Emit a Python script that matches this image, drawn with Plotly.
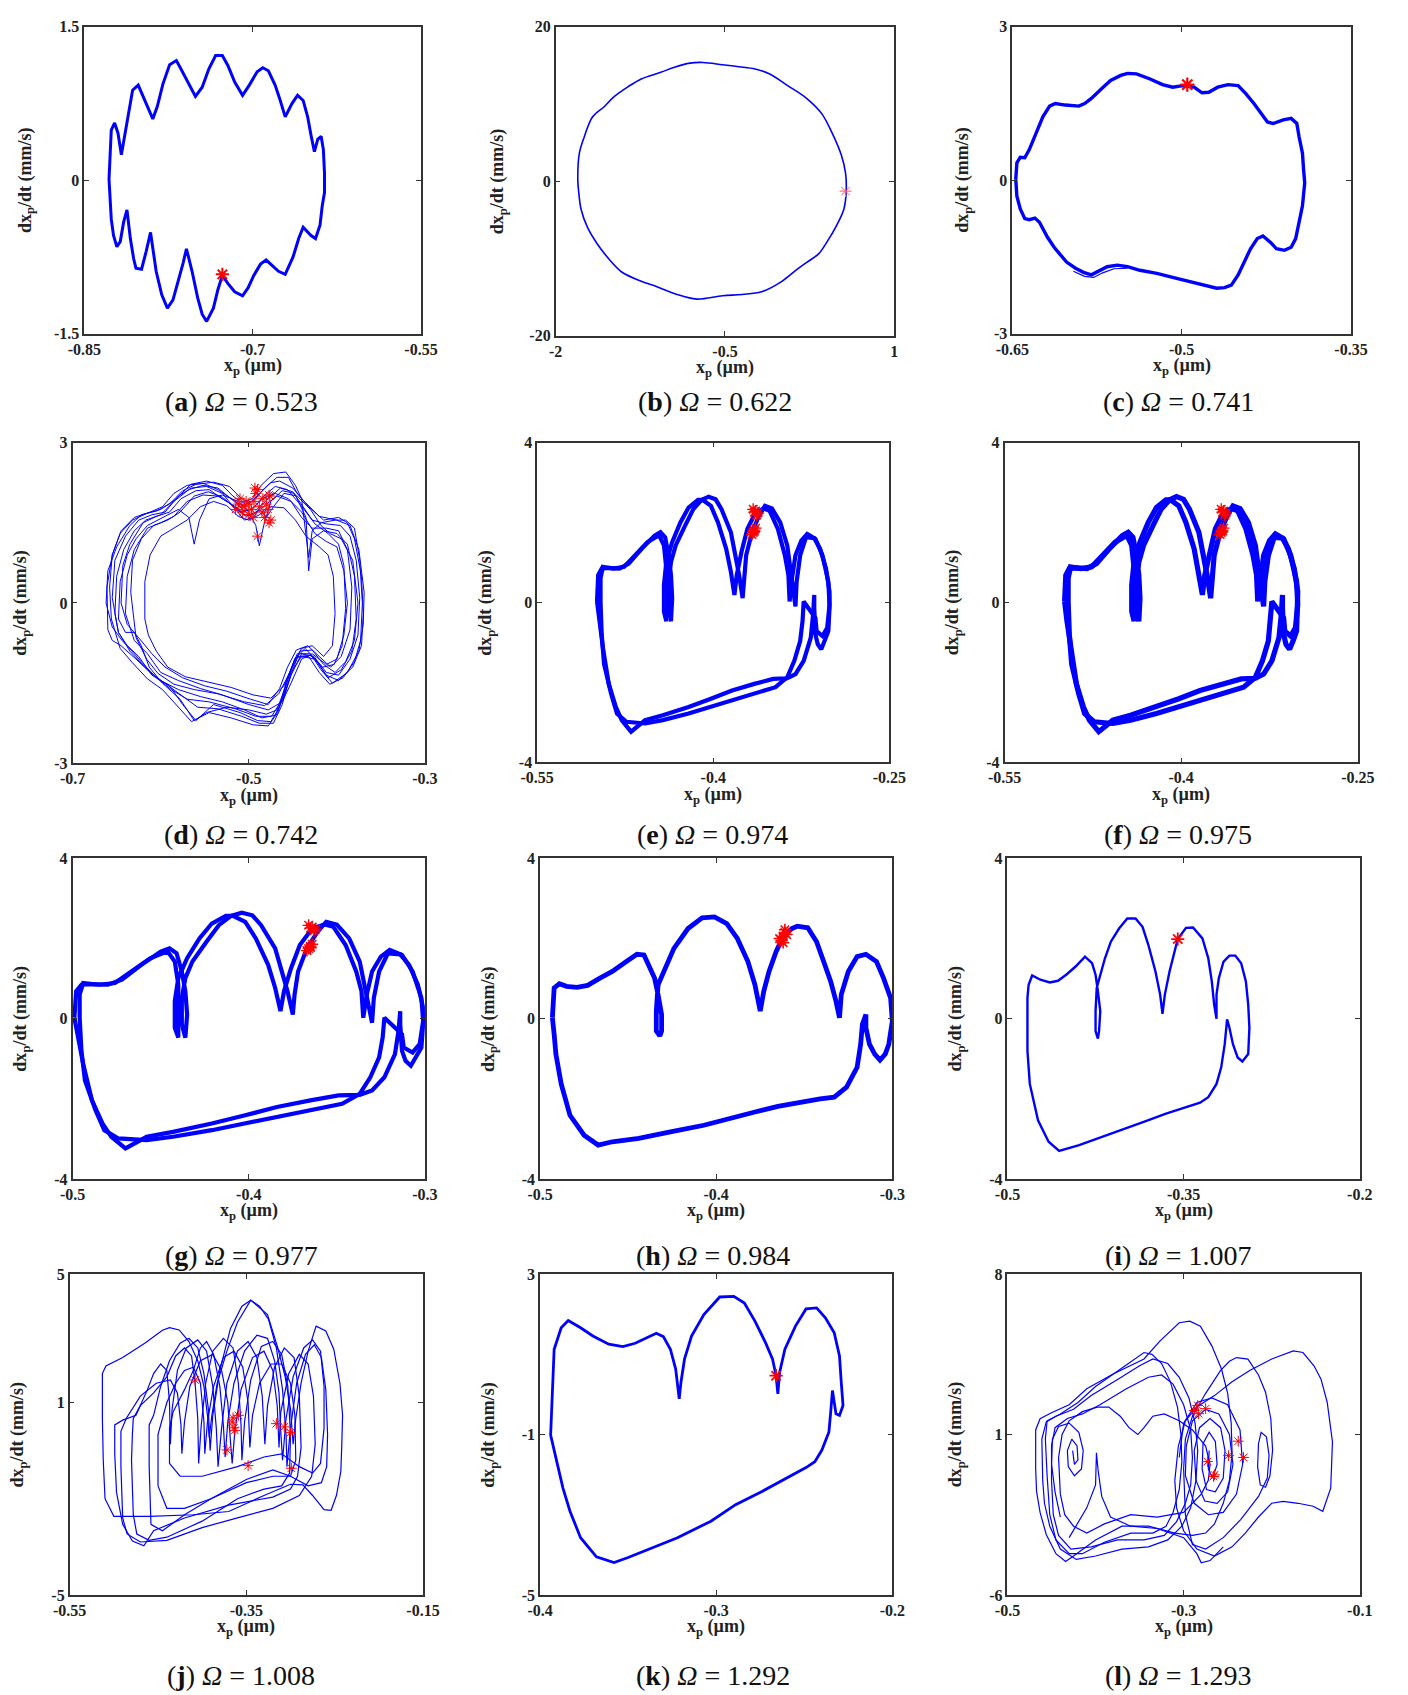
import plotly.graph_objects as go

W, H = 1408, 1695

# ---------------- data: phase trajectories (x_p in um, dx_p/dt in mm/s) ----------------
# (a) Omega = 0.523
orbit_a = [(-0.828, 0.01), (-0.827, 0.27), (-0.826, 0.49), (-0.823, 0.56), (-0.820, 0.46),
           (-0.817, 0.25), (-0.813, 0.49), (-0.810, 0.68), (-0.807, 0.88), (-0.802, 0.93),
           (-0.799, 0.85), (-0.794, 0.72), (-0.789, 0.60), (-0.785, 0.72), (-0.780, 0.94),
           (-0.774, 1.13), (-0.768, 1.17), (-0.764, 1.09), (-0.758, 0.96), (-0.751, 0.82),
           (-0.745, 0.91), (-0.739, 1.09), (-0.733, 1.22), (-0.727, 1.22), (-0.722, 1.12),
           (-0.716, 0.96), (-0.709, 0.83), (-0.703, 0.93), (-0.696, 1.06), (-0.691, 1.10),
           (-0.686, 1.07), (-0.680, 0.93), (-0.676, 0.80), (-0.671, 0.62), (-0.665, 0.75),
           (-0.660, 0.83), (-0.655, 0.78), (-0.651, 0.62), (-0.648, 0.44), (-0.645, 0.28),
           (-0.642, 0.40), (-0.639, 0.43), (-0.637, 0.30), (-0.636, 0.07), (-0.636, -0.12),
           (-0.638, -0.25), (-0.640, -0.44), (-0.644, -0.57), (-0.648, -0.54), (-0.655, -0.46),
           (-0.659, -0.57), (-0.664, -0.75), (-0.671, -0.92), (-0.677, -0.89), (-0.683, -0.83),
           (-0.688, -0.78), (-0.693, -0.82), (-0.699, -0.93), (-0.704, -1.05), (-0.709, -1.13),
           (-0.716, -1.09), (-0.722, -1.01), (-0.727, -0.93), (-0.731, -1.07), (-0.735, -1.25),
           (-0.741, -1.38), (-0.745, -1.31), (-0.749, -1.15), (-0.754, -0.89), (-0.759, -0.67),
           (-0.762, -0.81), (-0.767, -1.02), (-0.771, -1.17), (-0.776, -1.25), (-0.781, -1.12),
           (-0.786, -0.89), (-0.789, -0.67), (-0.791, -0.51), (-0.795, -0.70), (-0.799, -0.87),
           (-0.804, -0.86), (-0.806, -0.77), (-0.809, -0.57), (-0.812, -0.29), (-0.815, -0.41),
           (-0.818, -0.60), (-0.821, -0.65), (-0.824, -0.54), (-0.826, -0.38), (-0.827, -0.19),
           (-0.828, 0.01)]
poincare_a = [(-0.727, -0.92)]

# (b) Omega = 0.622
orbit_b = [(-1.804, 0.21), (-1.790, 3.63), (-1.746, 5.77), (-1.674, 8.33), (-1.573, 9.62),
           (-1.487, 10.90), (-1.357, 12.26), (-1.242, 13.25), (-1.069, 14.10), (-0.954, 14.74),
           (-0.810, 15.30), (-0.694, 15.38), (-0.522, 15.09), (-0.377, 14.83), (-0.233, 14.53),
           (-0.104, 13.89), (0.055, 12.39), (0.228, 10.68), (0.357, 8.76), (0.458, 5.98),
           (0.530, 3.42), (0.568, 1.07), (0.574, -1.28), (0.553, -3.63), (0.487, -5.77),
           (0.401, -7.91), (0.329, -9.40), (0.228, -10.47), (0.127, -11.54), (-0.003, -13.03),
           (-0.176, -14.32), (-0.349, -14.66), (-0.522, -14.83), (-0.752, -15.26), (-0.925, -14.66),
           (-1.098, -13.68), (-1.242, -12.95), (-1.415, -11.75), (-1.530, -10.04), (-1.631, -8.12),
           (-1.718, -5.98), (-1.775, -3.63), (-1.795, -1.50), (-1.804, 0.21)]
poincare_b = [(0.568, -1.28)]

# (c) Omega = 0.741
orbit_c = [(-0.647, 0.02), (-0.646, 0.34), (-0.643, 0.45), (-0.639, 0.44), (-0.635, 0.60),
           (-0.629, 0.92), (-0.623, 1.24), (-0.617, 1.45), (-0.612, 1.50), (-0.603, 1.47),
           (-0.591, 1.45), (-0.586, 1.50), (-0.580, 1.60), (-0.571, 1.79), (-0.563, 1.95),
           (-0.554, 2.05), (-0.548, 2.09), (-0.540, 2.08), (-0.528, 1.98), (-0.517, 1.87),
           (-0.508, 1.82), (-0.499, 1.85), (-0.489, 1.82), (-0.482, 1.71), (-0.476, 1.72),
           (-0.468, 1.82), (-0.459, 1.87), (-0.450, 1.85), (-0.443, 1.69), (-0.436, 1.50),
           (-0.430, 1.31), (-0.424, 1.14), (-0.419, 1.11), (-0.410, 1.18), (-0.403, 1.21),
           (-0.398, 1.11), (-0.396, 0.85), (-0.393, 0.53), (-0.392, 0.21), (-0.391, -0.05),
           (-0.393, -0.50), (-0.396, -0.82), (-0.399, -1.14), (-0.403, -1.31), (-0.409, -1.37),
           (-0.416, -1.34), (-0.421, -1.22), (-0.428, -1.09), (-0.433, -1.14), (-0.439, -1.34),
           (-0.445, -1.60), (-0.450, -1.85), (-0.456, -2.05), (-0.462, -2.10), (-0.469, -2.11),
           (-0.479, -2.06), (-0.494, -1.98), (-0.508, -1.90), (-0.522, -1.82), (-0.537, -1.76),
           (-0.548, -1.69), (-0.557, -1.66), (-0.566, -1.69), (-0.574, -1.79), (-0.580, -1.85),
           (-0.587, -1.80), (-0.594, -1.72), (-0.602, -1.60), (-0.607, -1.47), (-0.613, -1.31),
           (-0.619, -1.11), (-0.626, -0.82), (-0.630, -0.74), (-0.635, -0.77), (-0.639, -0.75),
           (-0.643, -0.56), (-0.646, -0.31), (-0.647, 0.02)]
orbit_c_fan = [(-0.548, -1.72), (-0.560, -1.73), (-0.570, -1.81), (-0.578, -1.90),
               (-0.586, -1.88), (-0.596, -1.78)]
poincare_c = [(-0.495, 1.87)]

# (d) Omega = 0.742
orbit_d1 = [(-0.662, 0.0), (-0.660, 0.6), (-0.650, 1.05), (-0.635, 1.45), (-0.622, 1.65),
            (-0.605, 1.72), (-0.590, 1.85), (-0.575, 2.10), (-0.560, 2.22), (-0.540, 2.26),
            (-0.522, 2.18), (-0.510, 1.98), (-0.500, 1.85), (-0.488, 2.05), (-0.475, 2.25),
            (-0.465, 2.28), (-0.450, 2.15), (-0.437, 1.90), (-0.420, 1.62), (-0.400, 1.55),
            (-0.385, 1.45), (-0.375, 1.0), (-0.369, 0.2), (-0.370, -0.4), (-0.375, -0.9),
            (-0.388, -1.3), (-0.405, -1.50), (-0.418, -1.25), (-0.430, -0.95), (-0.445, -0.95),
            (-0.455, -1.4), (-0.465, -1.95), (-0.475, -2.22), (-0.490, -2.20), (-0.510, -2.05),
            (-0.540, -1.90), (-0.560, -2.20), (-0.575, -1.90), (-0.590, -1.55), (-0.610, -1.35),
            (-0.625, -1.0), (-0.643, -0.72), (-0.655, -0.45), (-0.662, 0.0)]
orbit_d2 = [(-0.640, -0.2), (-0.638, 0.5), (-0.630, 1.0), (-0.615, 1.40), (-0.600, 1.50),
            (-0.585, 1.62), (-0.570, 1.90), (-0.552, 2.02), (-0.535, 2.00), (-0.520, 1.85),
            (-0.510, 1.70), (-0.497, 1.75), (-0.485, 1.95), (-0.470, 2.05), (-0.455, 1.95),
            (-0.440, 1.70), (-0.425, 1.30), (-0.412, 1.15), (-0.400, 1.05), (-0.392, 0.6),
            (-0.388, 0.0), (-0.392, -0.6), (-0.400, -1.05), (-0.412, -1.15), (-0.428, -0.95),
            (-0.440, -1.05), (-0.452, -1.5), (-0.462, -1.85), (-0.478, -2.00), (-0.500, -1.90),
            (-0.530, -1.72), (-0.555, -1.60), (-0.580, -1.45), (-0.600, -1.30), (-0.615, -0.95),
            (-0.630, -0.70), (-0.640, -0.2)]
orbit_d3 = [(-0.655, 0.1), (-0.652, 0.8), (-0.640, 1.25), (-0.625, 1.55), (-0.610, 1.65),
            (-0.595, 1.70), (-0.580, 2.00), (-0.565, 2.15), (-0.548, 2.18), (-0.530, 2.05),
            (-0.515, 1.75), (-0.505, 1.55), (-0.495, 1.60), (-0.488, 1.75), (-0.480, 1.60),
            (-0.472, 1.80), (-0.460, 2.05), (-0.445, 2.00), (-0.430, 1.75), (-0.418, 1.45),
            (-0.408, 1.30), (-0.395, 1.20), (-0.382, 0.8), (-0.376, 0.0), (-0.380, -0.7),
            (-0.390, -1.10), (-0.402, -1.30), (-0.415, -1.15), (-0.428, -0.88), (-0.442, -0.90),
            (-0.450, -1.25), (-0.460, -1.75), (-0.470, -2.10), (-0.485, -2.15), (-0.505, -2.00),
            (-0.530, -1.85), (-0.555, -1.75), (-0.580, -1.62), (-0.600, -1.45), (-0.618, -1.20),
            (-0.635, -0.90), (-0.648, -0.55), (-0.655, 0.1)]
orbit_d4 = [(-0.648, -0.3), (-0.646, 0.4), (-0.638, 0.9), (-0.628, 1.2), (-0.615, 1.45),
            (-0.600, 1.58), (-0.580, 1.75), (-0.568, 1.60), (-0.562, 1.10), (-0.556, 1.55),
            (-0.545, 1.95), (-0.530, 2.02), (-0.512, 1.90), (-0.500, 1.70), (-0.492, 1.45),
            (-0.488, 1.07), (-0.483, 1.45), (-0.475, 1.90), (-0.462, 2.10), (-0.448, 2.05),
            (-0.435, 1.60), (-0.432, 0.60), (-0.428, 1.20), (-0.415, 1.35), (-0.400, 1.30),
            (-0.388, 1.10), (-0.380, 0.5), (-0.378, -0.3), (-0.383, -0.9), (-0.395, -1.25),
            (-0.410, -1.40), (-0.422, -1.10), (-0.436, -0.85), (-0.448, -1.05), (-0.458, -1.55),
            (-0.468, -2.00), (-0.480, -2.08), (-0.500, -2.00), (-0.525, -1.95), (-0.548, -2.05),
            (-0.562, -2.20), (-0.578, -1.80), (-0.598, -1.50), (-0.613, -1.20), (-0.622, -0.80),
            (-0.630, -0.55), (-0.640, -0.55), (-0.648, -0.3)]
orbit_d5 = [(-0.660, -0.5), (-0.661, 0.3), (-0.655, 0.9), (-0.645, 1.35), (-0.630, 1.60),
            (-0.612, 1.70), (-0.598, 1.80), (-0.585, 2.05), (-0.570, 2.20), (-0.552, 2.24),
            (-0.535, 2.12), (-0.520, 1.95), (-0.508, 1.82), (-0.495, 1.90), (-0.482, 2.15),
            (-0.468, 2.35), (-0.455, 2.35), (-0.445, 2.05), (-0.432, 1.80), (-0.415, 1.55),
            (-0.398, 1.60), (-0.388, 1.50), (-0.380, 1.2), (-0.372, 0.5), (-0.370, -0.2),
            (-0.372, -0.8), (-0.382, -1.20), (-0.398, -1.45), (-0.412, -1.35), (-0.425, -1.05),
            (-0.440, -1.00), (-0.452, -1.30), (-0.462, -1.90), (-0.472, -2.25), (-0.488, -2.25),
            (-0.508, -2.12), (-0.535, -1.98), (-0.558, -1.95), (-0.575, -1.75), (-0.595, -1.50),
            (-0.612, -1.30), (-0.628, -1.05), (-0.645, -0.80), (-0.655, -0.70), (-0.660, -0.5)]
orbit_d6 = [(-0.645, 0.0), (-0.643, 0.7), (-0.635, 1.10), (-0.620, 1.50), (-0.605, 1.62),
            (-0.590, 1.70), (-0.577, 1.95), (-0.560, 2.10), (-0.545, 2.12), (-0.530, 1.95),
            (-0.515, 1.80), (-0.505, 1.65), (-0.495, 1.65), (-0.480, 1.85), (-0.468, 2.00),
            (-0.452, 1.90), (-0.440, 1.60), (-0.428, 1.40), (-0.412, 1.40), (-0.398, 1.35),
            (-0.388, 1.0), (-0.383, 0.3), (-0.385, -0.5), (-0.395, -1.00), (-0.407, -1.20),
            (-0.420, -1.00), (-0.433, -0.80), (-0.446, -0.88), (-0.456, -1.20), (-0.465, -1.60),
            (-0.478, -1.90), (-0.498, -1.80), (-0.525, -1.65), (-0.550, -1.55), (-0.575, -1.40),
            (-0.595, -1.20), (-0.610, -0.95), (-0.625, -0.65), (-0.638, -0.40), (-0.645, 0.0)]
orbit_d7 = [(-0.618, -0.3), (-0.618, 0.4), (-0.612, 0.9), (-0.600, 1.25), (-0.585, 1.40),
            (-0.570, 1.55), (-0.555, 1.80), (-0.540, 1.90), (-0.525, 1.82), (-0.512, 1.62),
            (-0.500, 1.55), (-0.488, 1.65), (-0.475, 1.80), (-0.460, 1.78), (-0.447, 1.55),
            (-0.435, 1.25), (-0.420, 1.05), (-0.410, 0.90), (-0.404, 0.5), (-0.402, -0.2),
            (-0.405, -0.8), (-0.415, -1.00), (-0.428, -0.80), (-0.440, -0.85), (-0.450, -1.15),
            (-0.460, -1.55), (-0.475, -1.78), (-0.495, -1.72), (-0.520, -1.58), (-0.548, -1.48),
            (-0.572, -1.38), (-0.592, -1.20), (-0.605, -0.90), (-0.614, -0.60), (-0.618, -0.3)]
orbit_d8 = [(-0.652, -0.2), (-0.650, 0.5), (-0.642, 1.0), (-0.630, 1.35), (-0.617, 1.55),
            (-0.600, 1.65), (-0.585, 1.90), (-0.568, 2.12), (-0.552, 2.20), (-0.535, 2.15),
            (-0.518, 1.92), (-0.505, 1.72), (-0.494, 1.78), (-0.483, 2.00), (-0.470, 2.18),
            (-0.456, 2.12), (-0.442, 1.85), (-0.428, 1.55), (-0.412, 1.48), (-0.396, 1.45),
            (-0.385, 1.25), (-0.378, 0.8), (-0.374, 0.1), (-0.376, -0.6), (-0.385, -1.05),
            (-0.398, -1.35), (-0.412, -1.30), (-0.426, -1.00), (-0.440, -0.95), (-0.452, -1.35),
            (-0.462, -1.80), (-0.474, -2.12), (-0.492, -2.12), (-0.515, -1.98), (-0.545, -1.85),
            (-0.570, -1.80), (-0.588, -1.62), (-0.605, -1.40), (-0.622, -1.10), (-0.638, -0.80),
            (-0.648, -0.55), (-0.652, -0.2)]
orbit_d9 = [(-0.634, 0.2), (-0.632, 0.8), (-0.622, 1.20), (-0.608, 1.45), (-0.592, 1.55),
            (-0.578, 1.70), (-0.562, 2.00), (-0.546, 2.08), (-0.530, 1.98), (-0.516, 1.78),
            (-0.503, 1.62), (-0.492, 1.70), (-0.478, 1.95), (-0.464, 2.15), (-0.450, 2.08),
            (-0.438, 1.80), (-0.425, 1.48), (-0.410, 1.30), (-0.398, 1.10), (-0.392, 0.7),
            (-0.390, -0.1), (-0.394, -0.8), (-0.403, -1.15), (-0.416, -1.20), (-0.430, -0.98),
            (-0.444, -1.00), (-0.455, -1.35), (-0.466, -1.70), (-0.482, -1.92), (-0.505, -1.85),
            (-0.535, -1.70), (-0.562, -1.62), (-0.585, -1.52), (-0.603, -1.32), (-0.616, -1.05),
            (-0.628, -0.65), (-0.634, 0.2)]
orbit_d10 = [(-0.658, 0.3), (-0.655, 0.9), (-0.646, 1.30), (-0.632, 1.55), (-0.615, 1.68),
             (-0.600, 1.75), (-0.582, 1.95), (-0.566, 2.22), (-0.548, 2.28), (-0.530, 2.20),
             (-0.518, 2.00), (-0.508, 1.88), (-0.496, 1.95), (-0.486, 2.20), (-0.472, 2.42),
             (-0.458, 2.45), (-0.447, 2.20), (-0.440, 1.95), (-0.436, 1.40), (-0.432, 0.85),
             (-0.428, 1.35), (-0.418, 1.50), (-0.402, 1.55), (-0.390, 1.55), (-0.380, 1.40),
             (-0.374, 0.8), (-0.371, 0.0), (-0.373, -0.7), (-0.380, -1.10), (-0.393, -1.40),
             (-0.408, -1.52), (-0.420, -1.30), (-0.432, -1.00), (-0.447, -1.02), (-0.457, -1.45),
             (-0.467, -2.05), (-0.478, -2.30), (-0.495, -2.28), (-0.520, -2.15), (-0.545, -2.05),
             (-0.565, -2.22), (-0.580, -1.95), (-0.598, -1.62), (-0.615, -1.42), (-0.632, -1.12),
             (-0.646, -0.85), (-0.656, -0.3), (-0.658, 0.3)]
poincare_d = [(-0.510, 1.95), (-0.505, 1.80), (-0.500, 1.85), (-0.497, 1.75), (-0.494, 1.90),
              (-0.492, 2.05), (-0.490, 2.12), (-0.488, 1.80), (-0.485, 1.70), (-0.484, 1.95),
              (-0.482, 1.60), (-0.480, 1.85), (-0.478, 1.75), (-0.476, 2.00), (-0.475, 1.55),
              (-0.477, 1.50), (-0.500, 1.65), (-0.503, 1.90), (-0.515, 1.75), (-0.512, 1.85),
              (-0.507, 1.70), (-0.495, 1.60), (-0.490, 1.25), (-0.493, 2.15), (-0.477, 2.02)]

# (e)-(g) Omega = 0.974 / 0.975 / 0.977: period-two orbit
orbit_p2_outer = [(-0.499, 0.025), (-0.498, 0.684), (-0.495, 0.849), (-0.489, 0.866), (-0.480, 0.849),
                  (-0.472, 0.973), (-0.461, 1.344), (-0.450, 1.674), (-0.445, 1.757), (-0.441, 1.633),
                  (-0.438, 1.179), (-0.436, 0.684), (-0.435, 0.107), (-0.436, -0.470), (-0.438, -0.140),
                  (-0.438, 0.520), (-0.436, 1.014), (-0.432, 1.427), (-0.424, 1.922), (-0.417, 2.334),
                  (-0.410, 2.565), (-0.404, 2.647), (-0.398, 2.581), (-0.393, 2.334), (-0.385, 1.757),
                  (-0.381, 1.179), (-0.378, 0.684), (-0.375, 0.107), (-0.374, 0.602), (-0.372, 1.179),
                  (-0.367, 1.757), (-0.361, 2.169), (-0.356, 2.416), (-0.350, 2.350), (-0.343, 2.004),
                  (-0.337, 1.427), (-0.334, 0.767), (-0.331, 0.107), (-0.330, -0.099), (-0.329, 0.520),
                  (-0.326, 1.179), (-0.321, 1.633), (-0.314, 1.608), (-0.309, 1.344), (-0.304, 0.849),
                  (-0.301, 0.272), (-0.301, -0.140), (-0.302, -0.717), (-0.305, -0.965), (-0.308, -1.171),
                  (-0.311, -1.047), (-0.313, -0.800), (-0.314, -0.140), (-0.314, 0.190), (-0.315, -0.305),
                  (-0.317, -0.882), (-0.323, -1.460), (-0.330, -1.790), (-0.337, -1.897), (-0.349, -1.913),
                  (-0.365, -2.037), (-0.384, -2.202), (-0.402, -2.408), (-0.421, -2.614), (-0.443, -2.821),
                  (-0.458, -2.944), (-0.470, -3.233), (-0.478, -2.944), (-0.483, -2.614), (-0.489, -2.037),
                  (-0.494, -1.130), (-0.497, -0.470), (-0.499, 0.025)]
orbit_p2_inner = [(-0.496, 0.025), (-0.496, 0.602), (-0.494, 0.891), (-0.485, 0.849), (-0.476, 0.891),
                  (-0.467, 1.179), (-0.456, 1.509), (-0.449, 1.633), (-0.446, 1.674), (-0.442, 1.427),
                  (-0.440, 0.849), (-0.440, 0.190), (-0.440, -0.470), (-0.442, -0.223), (-0.442, 0.437),
                  (-0.440, 1.014), (-0.435, 1.509), (-0.428, 2.004), (-0.421, 2.375), (-0.413, 2.565),
                  (-0.409, 2.565), (-0.402, 2.416), (-0.396, 2.004), (-0.389, 1.344), (-0.385, 0.767),
                  (-0.382, 0.190), (-0.380, 0.684), (-0.376, 1.262), (-0.371, 1.839), (-0.364, 2.251),
                  (-0.357, 2.350), (-0.352, 2.293), (-0.345, 1.839), (-0.339, 1.179), (-0.336, 0.684),
                  (-0.335, 0.025), (-0.333, 0.602), (-0.330, 1.179), (-0.325, 1.550), (-0.320, 1.715),
                  (-0.313, 1.592), (-0.307, 1.179), (-0.302, 0.520), (-0.301, -0.058), (-0.303, -0.635),
                  (-0.307, -0.841), (-0.312, -0.717), (-0.313, -0.388), (-0.323, 0.025), (-0.324, -0.470),
                  (-0.326, -0.965), (-0.331, -1.460), (-0.337, -1.872), (-0.347, -2.119), (-0.365, -2.284),
                  (-0.384, -2.449), (-0.402, -2.614), (-0.421, -2.779), (-0.443, -2.944), (-0.458, -3.027),
                  (-0.474, -2.985), (-0.482, -2.779), (-0.487, -2.284), (-0.493, -1.542), (-0.495, -0.800),
                  (-0.496, 0.025)]
poincare_p2 = [(-0.364, 2.29), (-0.362, 2.24), (-0.366, 2.33), (-0.363, 2.19), (-0.365, 2.26),
               (-0.365, 1.81), (-0.366, 1.75), (-0.364, 1.86), (-0.367, 1.70), (-0.365, 1.78)]

# (h) Omega = 0.984
orbit_h = [(-0.493, 0.025), (-0.492, 0.602), (-0.492, 0.767), (-0.489, 0.874), (-0.485, 0.808),
           (-0.479, 0.784), (-0.473, 0.833), (-0.466, 1.014), (-0.459, 1.179), (-0.451, 1.427),
           (-0.445, 1.608), (-0.441, 1.592), (-0.439, 1.386), (-0.435, 1.014), (-0.433, 0.602),
           (-0.431, 0.107), (-0.431, -0.305), (-0.432, -0.429), (-0.434, -0.305), (-0.434, 0.190),
           (-0.433, 0.849), (-0.429, 1.262), (-0.424, 1.757), (-0.416, 2.251), (-0.408, 2.515),
           (-0.401, 2.540), (-0.394, 2.375), (-0.388, 2.004), (-0.382, 1.427), (-0.378, 0.849),
           (-0.376, 0.355), (-0.375, 0.190), (-0.373, 0.684), (-0.370, 1.179), (-0.366, 1.674),
           (-0.362, 2.045), (-0.357, 2.251), (-0.354, 2.309), (-0.348, 2.268), (-0.343, 1.922),
           (-0.339, 1.427), (-0.335, 0.932), (-0.332, 0.437), (-0.330, 0.025), (-0.329, 0.602),
           (-0.325, 1.179), (-0.320, 1.550), (-0.315, 1.608), (-0.309, 1.427), (-0.305, 1.014),
           (-0.301, 0.520), (-0.300, -0.058), (-0.302, -0.635), (-0.304, -0.882), (-0.307, -1.031),
           (-0.310, -0.882), (-0.313, -0.635), (-0.315, -0.223), (-0.315, 0.107), (-0.317, -0.140),
           (-0.318, -0.635), (-0.320, -1.212), (-0.326, -1.707), (-0.333, -1.955), (-0.341, -1.996),
           (-0.352, -2.078), (-0.365, -2.186), (-0.378, -2.326), (-0.392, -2.491), (-0.407, -2.656),
           (-0.426, -2.821), (-0.444, -2.985), (-0.459, -3.068), (-0.467, -3.150), (-0.475, -2.903),
           (-0.483, -2.408), (-0.488, -1.625), (-0.491, -0.882), (-0.492, -0.388), (-0.493, 0.025)]
poincare_h = [(-0.362, 2.05), (-0.361, 2.15), (-0.363, 1.95), (-0.360, 2.10), (-0.364, 2.00),
              (-0.362, 1.90), (-0.361, 2.22)]

# (i) Omega = 1.007
orbit_i = [(-0.483, 0.025), (-0.483, 0.520), (-0.482, 0.849), (-0.479, 1.080), (-0.472, 0.973),
           (-0.464, 0.907), (-0.457, 0.948), (-0.450, 1.097), (-0.442, 1.303), (-0.434, 1.550),
           (-0.428, 1.386), (-0.425, 1.097), (-0.423, 0.684), (-0.421, 0.190), (-0.422, -0.305),
           (-0.423, -0.495), (-0.425, -0.305), (-0.425, 0.190), (-0.424, 0.767), (-0.421, 1.097),
           (-0.417, 1.509), (-0.412, 1.922), (-0.405, 2.251), (-0.398, 2.499), (-0.391, 2.499),
           (-0.385, 2.293), (-0.380, 1.839), (-0.374, 1.179), (-0.370, 0.602), (-0.368, 0.124),
           (-0.366, 0.602), (-0.362, 1.179), (-0.358, 1.674), (-0.355, 1.988), (-0.348, 2.268),
           (-0.342, 2.276), (-0.334, 2.004), (-0.329, 1.509), (-0.326, 0.932), (-0.324, 0.355),
           (-0.322, 0.0), (-0.322, 0.602), (-0.320, 1.014), (-0.316, 1.427), (-0.311, 1.575),
           (-0.306, 1.575), (-0.301, 1.386), (-0.297, 0.932), (-0.295, 0.355), (-0.294, -0.223),
           (-0.295, -0.882), (-0.300, -1.064), (-0.304, -0.965), (-0.308, -0.635), (-0.311, -0.223),
           (-0.313, -0.016), (-0.315, -0.635), (-0.318, -1.212), (-0.322, -1.625), (-0.329, -1.955),
           (-0.336, -2.095), (-0.348, -2.202), (-0.365, -2.367), (-0.384, -2.573), (-0.403, -2.779),
           (-0.423, -2.985), (-0.439, -3.150), (-0.456, -3.299), (-0.465, -3.068), (-0.474, -2.532),
           (-0.481, -1.625), (-0.483, -0.800), (-0.483, 0.025)]
poincare_i = [(-0.355, 1.988)]

# (j) Omega = 1.008: chaotic motion
orbit_j1 = [(-0.512, -0.8), (-0.513, 0.5), (-0.513, 1.9), (-0.509, 2.14), (-0.490, 2.40),
            (-0.465, 2.85), (-0.445, 3.25), (-0.437, 3.33), (-0.426, 3.26), (-0.415, 2.90),
            (-0.405, 2.30), (-0.398, 1.50), (-0.394, 0.60), (-0.392, -0.10), (-0.389, 0.60),
            (-0.383, 1.60), (-0.372, 2.60), (-0.360, 3.50), (-0.345, 4.19), (-0.326, 3.74),
            (-0.315, 2.76), (-0.306, 1.80), (-0.300, 0.80), (-0.297, -0.30), (-0.294, 0.50),
            (-0.288, 1.60), (-0.280, 2.60), (-0.271, 3.38), (-0.260, 3.23), (-0.251, 2.66),
            (-0.244, 1.60), (-0.241, 0.60), (-0.242, -0.40), (-0.243, -1.15), (-0.248, -1.90),
            (-0.254, -2.36), (-0.262, -2.34), (-0.275, -1.90), (-0.286, -1.57), (-0.300, -1.55),
            (-0.330, -1.90), (-0.370, -2.40), (-0.410, -2.50), (-0.460, -2.55), (-0.500, -2.55),
            (-0.510, -2.00), (-0.512, -0.8)]
orbit_j2 = [(-0.497, -1.8), (-0.499, -0.6), (-0.499, 0.3), (-0.490, 0.45), (-0.475, 0.6),
            (-0.462, 1.4), (-0.455, 1.9), (-0.447, 2.2), (-0.440, 2.0), (-0.437, 1.0),
            (-0.436, -0.3), (-0.434, 0.8), (-0.428, 2.0), (-0.418, 2.7), (-0.405, 2.95),
            (-0.395, 2.6), (-0.388, 1.5), (-0.384, 0.2), (-0.382, -1.0), (-0.378, 0.2),
            (-0.372, 1.6), (-0.360, 2.6), (-0.348, 2.9), (-0.338, 2.4), (-0.332, 1.2),
            (-0.329, -0.3), (-0.326, 0.9), (-0.318, 2.1), (-0.307, 2.7), (-0.296, 2.4),
            (-0.290, 1.2), (-0.288, -0.4), (-0.292, -1.3), (-0.300, -1.7), (-0.320, -1.95),
            (-0.370, -2.2), (-0.420, -2.6), (-0.455, -3.0), (-0.466, -3.47), (-0.479, -3.32),
            (-0.490, -2.8), (-0.497, -1.8)]
orbit_j3 = [(-0.478, -2.5), (-0.480, -0.8), (-0.479, 0.0), (-0.478, 0.5), (-0.470, 0.9),
            (-0.455, 1.3), (-0.440, 1.8), (-0.430, 2.45), (-0.420, 2.7), (-0.412, 2.45),
            (-0.408, 1.6), (-0.405, 0.5), (-0.404, -0.9), (-0.401, 0.3), (-0.396, 1.6),
            (-0.388, 2.6), (-0.376, 3.0), (-0.365, 2.7), (-0.359, 1.6), (-0.356, 0.3),
            (-0.355, -0.8), (-0.352, 0.4), (-0.345, 1.7), (-0.333, 2.75), (-0.320, 2.9),
            (-0.310, 2.5), (-0.303, 1.5), (-0.300, 0.0), (-0.301, -1.2), (-0.310, -1.6),
            (-0.330, -1.7), (-0.360, -2.0), (-0.400, -2.7), (-0.440, -3.2), (-0.460, -3.3),
            (-0.474, -3.1), (-0.478, -2.5)]
orbit_j4 = [(-0.458, -2.8), (-0.460, -1.0), (-0.460, 0.3), (-0.455, 0.6), (-0.447, 1.5),
            (-0.437, 2.3), (-0.425, 2.85), (-0.415, 3.0), (-0.405, 2.7), (-0.398, 1.9),
            (-0.393, 0.8), (-0.391, -0.5), (-0.388, 0.6), (-0.380, 2.0), (-0.368, 3.3),
            (-0.355, 4.0), (-0.345, 4.19), (-0.335, 4.0), (-0.325, 3.6), (-0.316, 2.7),
            (-0.309, 1.4), (-0.305, 0.0), (-0.304, -1.0), (-0.300, 0.2), (-0.293, 1.6),
            (-0.283, 2.5), (-0.273, 2.8), (-0.265, 2.4), (-0.260, 1.4), (-0.258, 0.0),
            (-0.259, -1.0), (-0.265, -1.5), (-0.280, -1.6), (-0.300, -1.3), (-0.320, -1.1),
            (-0.350, -1.4), (-0.390, -2.0), (-0.420, -2.5), (-0.445, -3.0), (-0.458, -2.8)]
orbit_j5 = [(-0.437, -0.9), (-0.437, 0.2), (-0.433, 0.7), (-0.420, 1.4), (-0.410, 2.0),
            (-0.402, 2.7), (-0.395, 2.9), (-0.387, 2.5), (-0.380, 1.5), (-0.376, 0.3),
            (-0.374, -0.7), (-0.371, 0.4), (-0.364, 1.6), (-0.352, 2.6), (-0.338, 3.1),
            (-0.326, 3.0), (-0.318, 2.3), (-0.313, 1.3), (-0.311, 0.1), (-0.309, -0.8),
            (-0.305, 0.5), (-0.297, 1.8), (-0.285, 2.7), (-0.275, 2.95), (-0.266, 2.6),
            (-0.262, 1.5), (-0.262, 0.2), (-0.266, -0.9), (-0.275, -1.2), (-0.290, -1.0),
            (-0.310, -0.6), (-0.330, -0.7), (-0.360, -1.0), (-0.400, -1.3), (-0.425, -1.3),
            (-0.437, -0.9)]
orbit_j6 = [(-0.450, -1.6), (-0.450, 0.0), (-0.446, 0.4), (-0.440, 1.0), (-0.430, 1.6),
            (-0.420, 2.0), (-0.410, 2.1), (-0.402, 1.6), (-0.398, 0.4), (-0.397, -0.6),
            (-0.394, 0.4), (-0.387, 1.5), (-0.376, 2.4), (-0.364, 2.6), (-0.354, 2.1),
            (-0.348, 1.0), (-0.346, -0.4), (-0.343, 0.6), (-0.335, 1.6), (-0.322, 2.2),
            (-0.310, 2.2), (-0.300, 1.6), (-0.295, 0.6), (-0.294, -0.8), (-0.300, -1.3),
            (-0.320, -1.3), (-0.350, -1.5), (-0.390, -2.0), (-0.420, -2.3), (-0.440, -2.3),
            (-0.450, -1.6)]
orbit_j7 = [(-0.490, -2.6), (-0.492, -1.0), (-0.492, 0.1), (-0.486, 0.5), (-0.470, 1.2),
            (-0.452, 1.6), (-0.436, 1.7), (-0.428, 1.3), (-0.424, 0.3), (-0.423, -0.6),
            (-0.420, 0.4), (-0.414, 1.5), (-0.402, 2.3), (-0.388, 2.5), (-0.378, 2.0),
            (-0.371, 1.0), (-0.368, -0.2), (-0.366, -0.9), (-0.363, 0.1), (-0.356, 1.4),
            (-0.343, 2.4), (-0.330, 2.6), (-0.320, 2.0), (-0.315, 0.9), (-0.313, -0.4),
            (-0.311, 0.7), (-0.302, 1.9), (-0.290, 2.5), (-0.280, 2.2), (-0.274, 1.2),
            (-0.272, -0.3), (-0.276, -1.3), (-0.290, -1.9), (-0.320, -2.3), (-0.360, -2.6),
            (-0.400, -2.9), (-0.440, -3.3), (-0.470, -3.35), (-0.485, -3.1), (-0.490, -2.6)]
poincare_j = [(-0.408, 1.70), (-0.365, 0.52), (-0.359, 0.60), (-0.364, 0.21), (-0.366, 0.39),
              (-0.363, 0.13), (-0.372, -0.48), (-0.348, -0.97), (-0.316, 0.34), (-0.307, 0.24),
              (-0.300, 0.06), (-0.299, -1.05)]

# (k) Omega = 1.292
orbit_k = [(-0.394, -1.016), (-0.393, 0.056), (-0.392, 1.128), (-0.388, 1.664), (-0.384, 1.845),
           (-0.377, 1.664), (-0.370, 1.458), (-0.361, 1.252), (-0.353, 1.194), (-0.346, 1.276),
           (-0.338, 1.441), (-0.334, 1.524), (-0.330, 1.441), (-0.326, 1.128), (-0.323, 0.633),
           (-0.322, 0.221), (-0.321, -0.109), (-0.320, 0.303), (-0.318, 0.880), (-0.314, 1.458),
           (-0.307, 1.994), (-0.298, 2.431), (-0.290, 2.447), (-0.284, 2.282), (-0.278, 1.829),
           (-0.272, 1.293), (-0.268, 0.880), (-0.266, 0.468), (-0.265, 0.014), (-0.264, 0.551),
           (-0.261, 1.128), (-0.255, 1.705), (-0.249, 2.134), (-0.243, 2.159), (-0.238, 1.911),
           (-0.233, 1.540), (-0.230, 0.963), (-0.229, 0.303), (-0.228, -0.274), (-0.230, -0.522),
           (-0.232, -0.480), (-0.233, -0.192), (-0.234, 0.097), (-0.235, -0.439), (-0.236, -0.934),
           (-0.240, -1.387), (-0.244, -1.676), (-0.249, -1.824), (-0.255, -1.965), (-0.263, -2.154),
           (-0.274, -2.418), (-0.289, -2.748), (-0.303, -3.161), (-0.322, -3.573), (-0.340, -3.903),
           (-0.350, -4.068), (-0.358, -4.192), (-0.368, -4.051), (-0.377, -3.573), (-0.383, -2.913),
           (-0.387, -2.336), (-0.391, -1.594), (-0.394, -1.016)]
poincare_k = [(-0.266, 0.468)]

# (l) Omega = 1.293: chaotic motion
orbit_l1 = [(-0.468, -0.5), (-0.468, 1.2), (-0.463, 1.69), (-0.450, 1.95), (-0.430, 2.30),
            (-0.410, 3.00), (-0.380, 3.64), (-0.345, 4.30), (-0.327, 5.08), (-0.305, 5.88),
            (-0.293, 5.95), (-0.281, 5.73), (-0.268, 4.87), (-0.257, 3.86), (-0.250, 2.80),
            (-0.246, 1.50), (-0.245, 0.20), (-0.248, -1.00), (-0.255, -2.00), (-0.265, -2.90),
            (-0.275, -3.30), (-0.290, -3.40), (-0.310, -3.30), (-0.340, -3.00), (-0.370, -3.00),
            (-0.400, -3.60), (-0.425, -4.30), (-0.434, -4.54), (-0.445, -4.20), (-0.456, -3.36),
            (-0.463, -2.40), (-0.467, -1.48), (-0.468, -0.5)]
orbit_l2 = [(-0.455, -0.8), (-0.457, 0.8), (-0.455, 1.6), (-0.440, 1.9), (-0.420, 2.4),
            (-0.400, 3.1), (-0.370, 3.9), (-0.345, 4.58), (-0.336, 4.5), (-0.325, 4.1),
            (-0.315, 3.3), (-0.307, 2.2), (-0.303, 1.0), (-0.302, -0.2), (-0.305, -1.4),
            (-0.312, -2.4), (-0.320, -3.0), (-0.335, -3.3), (-0.360, -3.3), (-0.390, -3.7),
            (-0.415, -4.2), (-0.430, -4.2), (-0.445, -3.6), (-0.452, -2.5), (-0.455, -0.8)]
orbit_l3 = [(-0.310, -1.0), (-0.306, 0.5), (-0.298, 1.6), (-0.285, 2.2), (-0.265, 2.7),
            (-0.245, 3.3), (-0.225, 3.8), (-0.200, 4.3), (-0.1755, 4.65), (-0.1645, 4.58),
            (-0.152, 4.0), (-0.144, 3.42), (-0.137, 2.41), (-0.131, 0.68), (-0.133, -1.34),
            (-0.142, -2.35), (-0.153, -2.13), (-0.170, -2.0), (-0.187, -1.92), (-0.200, -2.0),
            (-0.215, -2.6), (-0.230, -3.3), (-0.245, -3.9), (-0.265, -4.3), (-0.285, -4.0),
            (-0.300, -3.2), (-0.308, -2.2), (-0.310, -1.0)]
orbit_l4 = [(-0.300, -0.5), (-0.298, 0.8), (-0.290, 1.8), (-0.275, 2.8), (-0.258, 3.8),
            (-0.248, 4.2), (-0.240, 4.36), (-0.227, 4.29), (-0.215, 3.6), (-0.207, 2.85),
            (-0.201, 1.69), (-0.199, 0.3), (-0.202, -0.8), (-0.207, -1.3), (-0.213, -1.2),
            (-0.216, -0.4), (-0.215, 0.6), (-0.212, 1.1), (-0.206, 0.9), (-0.203, 0.1),
            (-0.205, -0.9), (-0.215, -1.7), (-0.235, -2.7), (-0.255, -3.5), (-0.275, -4.0),
            (-0.290, -3.8), (-0.298, -2.5), (-0.300, -0.5)]
orbit_l5 = [(-0.440, -1.6), (-0.442, 0.0), (-0.438, 1.0), (-0.430, 1.6), (-0.415, 2.0),
            (-0.398, 2.2), (-0.385, 2.2), (-0.372, 1.8), (-0.362, 1.3), (-0.352, 1.0),
            (-0.345, 1.3), (-0.335, 1.8), (-0.322, 1.9), (-0.305, 1.6), (-0.290, 1.2),
            (-0.275, 0.5), (-0.270, -0.3), (-0.272, -1.0), (-0.280, -1.6), (-0.300, -2.4),
            (-0.330, -2.6), (-0.360, -2.5), (-0.390, -2.9), (-0.410, -3.3), (-0.425, -3.0),
            (-0.435, -2.5), (-0.440, -1.6)]
orbit_l6 = [(-0.440, -2.6), (-0.446, -1.5), (-0.450, -0.3), (-0.449, 0.8), (-0.442, 1.35),
            (-0.430, 1.5), (-0.419, 1.1), (-0.414, 0.3), (-0.416, -0.5), (-0.424, -0.8),
            (-0.431, -0.4), (-0.432, 0.3), (-0.427, 0.8), (-0.421, 0.5), (-0.420, -0.1),
            (-0.424, -0.3), (-0.426, 0.3)]
orbit_l7 = [(-0.305, 0.0), (-0.300, 1.5), (-0.285, 2.4), (-0.268, 2.6), (-0.250, 2.3),
            (-0.236, 1.2), (-0.233, -0.3), (-0.240, -1.6), (-0.255, -2.4), (-0.272, -2.5),
            (-0.288, -2.0), (-0.298, -0.8), (-0.297, 0.5), (-0.290, 1.6), (-0.275, 2.1),
            (-0.260, 1.9), (-0.248, 1.0), (-0.244, -0.3), (-0.250, -1.5), (-0.262, -2.0),
            (-0.276, -1.9), (-0.286, -1.0), (-0.288, 0.3), (-0.282, 1.3), (-0.270, 1.7),
            (-0.258, 1.3), (-0.253, 0.3), (-0.255, -0.9), (-0.264, -1.5), (-0.274, -1.4),
            (-0.279, -0.5), (-0.278, 0.6), (-0.271, 1.1), (-0.264, 0.7), (-0.262, -0.3),
            (-0.267, -0.9), (-0.272, -0.5), (-0.271, 0.3)]
orbit_l8 = [(-0.430, -3.5), (-0.410, -2.2), (-0.400, -1.2), (-0.399, 0.2), (-0.397, -0.6),
            (-0.393, -1.7), (-0.383, -2.6), (-0.360, -3.0), (-0.330, -3.1), (-0.300, -3.5),
            (-0.285, -4.2), (-0.280, -4.6), (-0.270, -4.5), (-0.255, -3.9)]
orbit_l9 = [(-0.460, -1.0), (-0.461, 0.8), (-0.456, 1.55), (-0.445, 1.80), (-0.425, 2.10),
            (-0.405, 2.70), (-0.375, 3.40), (-0.350, 4.00), (-0.335, 4.30), (-0.318, 4.10),
            (-0.305, 3.50), (-0.294, 2.60), (-0.287, 1.50), (-0.284, 0.30), (-0.286, -1.00),
            (-0.292, -2.20), (-0.302, -3.00), (-0.318, -3.60), (-0.340, -3.90), (-0.370, -4.00),
            (-0.400, -4.30), (-0.422, -4.45), (-0.440, -4.00), (-0.452, -3.00), (-0.458, -2.0),
            (-0.460, -1.0)]
orbit_l10 = [(-0.448, -2.5), (-0.450, -1.0), (-0.450, 0.5), (-0.446, 1.3), (-0.432, 1.7),
             (-0.415, 1.9), (-0.395, 2.3), (-0.365, 3.0), (-0.340, 3.5), (-0.325, 3.6),
             (-0.312, 3.2), (-0.300, 2.3), (-0.292, 1.2), (-0.290, 0.0), (-0.292, -1.2),
             (-0.298, -2.0), (-0.308, -2.8), (-0.322, -3.40), (-0.345, -3.6), (-0.375, -3.6),
             (-0.405, -3.9), (-0.428, -4.0), (-0.442, -3.4), (-0.448, -2.5)]
poincare_l = [(-0.284, 2.27), (-0.288, 2.05), (-0.275, 2.13), (-0.283, 1.91), (-0.273, -0.18),
              (-0.265, -0.76), (-0.266, -0.83), (-0.249, 0.08), (-0.232, 0.00), (-0.238, 0.71)]

# ---------------- axes: ranges, ticks and labels ----------------
panel_keys = list("abcdefghijkl")
x_ranges = {"a": (-0.85, -0.55), "b": (-2, 1), "c": (-0.65, -0.35), "d": (-0.7, -0.3),
            "e": (-0.55, -0.25), "f": (-0.55, -0.25), "g": (-0.5, -0.3), "h": (-0.5, -0.3),
            "i": (-0.5, -0.2), "j": (-0.55, -0.15), "k": (-0.4, -0.2), "l": (-0.5, -0.1)}
y_ranges = {"a": (-1.5, 1.5), "b": (-20, 20), "c": (-3, 3), "d": (-3, 3),
            "e": (-4, 4), "f": (-4, 4), "g": (-4, 4), "h": (-4, 4),
            "i": (-4, 4), "j": (-5, 5), "k": (-5, 3), "l": (-6, 8)}
x_tick_labels = {"a": ["-0.85", "-0.7", "-0.55"], "b": ["-2", "-0.5", "1"],
                 "c": ["-0.65", "-0.5", "-0.35"], "d": ["-0.7", "-0.5", "-0.3"],
                 "e": ["-0.55", "-0.4", "-0.25"], "f": ["-0.55", "-0.4", "-0.25"],
                 "g": ["-0.5", "-0.4", "-0.3"], "h": ["-0.5", "-0.4", "-0.3"],
                 "i": ["-0.5", "-0.35", "-0.2"], "j": ["-0.55", "-0.35", "-0.15"],
                 "k": ["-0.4", "-0.3", "-0.2"], "l": ["-0.5", "-0.3", "-0.1"]}
y_tick_labels = {"a": ["-1.5", "0", "1.5"], "b": ["-20", "0", "20"], "c": ["-3", "0", "3"],
                 "d": ["-3", "0", "3"], "e": ["-4", "0", "4"], "f": ["-4", "0", "4"],
                 "g": ["-4", "0", "4"], "h": ["-4", "0", "4"], "i": ["-4", "0", "4"],
                 "j": ["-5", "1", "5"], "k": ["-5", "-1", "3"], "l": ["-6", "1", "8"]}
omega_values = {"a": "0.523", "b": "0.622", "c": "0.741", "d": "0.742", "e": "0.974",
                "f": "0.975", "g": "0.977", "h": "0.984", "i": "1.007", "j": "1.008",
                "k": "1.292", "l": "1.293"}

# ---------------- page geometry (pixels) ----------------
plot_box = {"a": (69, 414, 19, 329), "b": (552, 899, 19, 331), "c": (1020, 1367, 19, 329),
            "d": (57, 418, 439, 763), "e": (533, 894, 439, 762), "f": (1012, 1374, 439, 762),
            "g": (57, 418, 859, 1183), "h": (536, 897, 859, 1183), "i": (1015, 1376, 859, 1183),
            "j": (54, 416, 1279, 1603), "k": (536, 897, 1279, 1603), "l": (1015, 1376, 1279, 1603)}
ylabel_gap = {"a": 60, "b": 59, "c": 50}
caption_pos = {"a": (230, 397), "b": (715, 397), "c": (1190, 397),
               "d": (230, 835), "e": (713, 835), "f": (1190, 835),
               "g": (230, 1260), "h": (713, 1260), "i": (1190, 1260),
               "j": (230, 1684), "k": (713, 1684), "l": (1190, 1684)}

BLUE = "#0000ff"
RED = "#ff0000"
AXIS = "#333333"
SERIF = "Liberation Serif"

fig = go.Figure()


def axis_ids(n):
    return ("x" if n == 1 else f"x{n}", "y" if n == 1 else f"y{n}")


def add_orbit(key, pts, width, shape="linear"):
    n = panel_keys.index(key) + 1
    xr, yr = axis_ids(n)
    xs, ys = zip(*pts)
    fig.add_trace(go.Scatter(x=list(xs), y=list(ys), mode="lines", xaxis=xr, yaxis=yr,
                             line=dict(color=BLUE, width=width, shape=shape),
                             hoverinfo="skip", showlegend=False))


def add_section(key, pts, size=10, width=1.3, color=RED):
    n = panel_keys.index(key) + 1
    xr, yr = axis_ids(n)
    xs, ys = zip(*pts)
    fig.add_trace(go.Scatter(x=list(xs), y=list(ys), mode="markers", xaxis=xr, yaxis=yr,
                             marker=dict(symbol="asterisk-open", size=size, color=color,
                                         line=dict(color=color, width=width)),
                             hoverinfo="skip", showlegend=False))


add_orbit("a", orbit_a, 3.0)
add_section("a", poincare_a, size=11, width=2)

add_orbit("b", orbit_b, 1.6, shape="spline")
add_section("b", poincare_b, size=10, width=1, color="#ff5a5a")

add_orbit("c", orbit_c, 3.4)
add_orbit("c", orbit_c_fan, 1.2)
add_section("c", poincare_c, size=12, width=2.2)

for loop in (orbit_d1, orbit_d2, orbit_d3, orbit_d4, orbit_d5, orbit_d6,
             orbit_d7, orbit_d8, orbit_d9, orbit_d10):
    add_orbit("d", loop, 1.0)
add_section("d", poincare_d, size=9, width=1)

for key, w in (("e", 4.2), ("f", 5.2), ("g", 4.2)):
    add_orbit(key, orbit_p2_outer, w)
    add_orbit(key, orbit_p2_inner, w)
    add_section(key, poincare_p2, size=10, width=1.4)

add_orbit("h", orbit_h, 4.8)
add_section("h", poincare_h, size=10, width=1.6)

add_orbit("i", orbit_i, 2.4)
add_section("i", poincare_i, size=11, width=1.8)

for loop in (orbit_j1, orbit_j2, orbit_j3, orbit_j4, orbit_j5, orbit_j6, orbit_j7):
    add_orbit("j", loop, 1.2)
add_section("j", poincare_j, size=9, width=1)

add_orbit("k", orbit_k, 2.8)
add_section("k", poincare_k, size=11, width=1.8)

for loop in (orbit_l1, orbit_l2, orbit_l3, orbit_l4, orbit_l5, orbit_l6, orbit_l7,
             orbit_l8, orbit_l9, orbit_l10):
    add_orbit("l", loop, 1.2)
add_section("l", poincare_l, size=9, width=1)

# ---------------- axes, titles and captions ----------------
axis_style = dict(showline=True, mirror="ticks", linecolor=AXIS, linewidth=1.6,
                  ticks="inside", ticklen=5, tickwidth=1.3, tickcolor=AXIS,
                  showgrid=False, zeroline=False, tickmode="array", fixedrange=True,
                  tickfont=dict(family=SERIF, size=16, color="#222222", weight="bold"))
title_font = dict(family=SERIF, size=18, color="#222222", weight="bold")

layout_axes = {}
annotations = []
for n, key in enumerate(panel_keys, start=1):
    x0, x1, y0, y1 = plot_box[key]
    xr, yr = axis_ids(n)
    xlo, xhi = x_ranges[key]
    ylo, yhi = y_ranges[key]
    xvals = [float(t) for t in x_tick_labels[key]]
    yvals = [float(t) for t in y_tick_labels[key]]
    layout_axes["xaxis" if n == 1 else f"xaxis{n}"] = dict(
        domain=[x0 / W, x1 / W], range=[xlo, xhi], anchor=yr,
        tickvals=xvals, ticktext=x_tick_labels[key], **axis_style)
    layout_axes["yaxis" if n == 1 else f"yaxis{n}"] = dict(
        domain=[1 - y1 / H, 1 - y0 / H], range=[ylo, yhi], anchor=xr,
        tickvals=yvals, ticktext=y_tick_labels[key], **axis_style)

    # x-axis title
    annotations.append(dict(
        x=(x0 + x1) / 2 / W, y=1 - (y1 + 33) / H, xref="paper", yref="paper",
        text="x<sub>p</sub> (µm)", showarrow=False, xanchor="center", yanchor="middle",
        font=title_font))
    # y-axis title
    gap = ylabel_gap.get(key, 52)
    annotations.append(dict(
        x=(x0 - gap) / W, y=1 - (y0 + y1) / 2 / H, xref="paper", yref="paper",
        text="dx<sub>p</sub>/dt (mm/s)", showarrow=False, textangle=-90,
        xanchor="center", yanchor="middle", font=title_font))
    # caption
    cx, cy = caption_pos[key]
    annotations.append(dict(
        x=cx / W, y=1 - cy / H, xref="paper", yref="paper",
        text=f"(<b>{key}</b>) <i>Ω</i> = {omega_values[key]}", showarrow=False,
        xanchor="center", yanchor="middle",
        font=dict(family=SERIF, size=28, color="#111111")))

fig.update_layout(**layout_axes)
fig.update_layout(width=W, height=H, margin=dict(l=0, r=0, t=0, b=0),
                  paper_bgcolor="white", plot_bgcolor="white", showlegend=False,
                  annotations=annotations)

fig.write_html("out.html")
